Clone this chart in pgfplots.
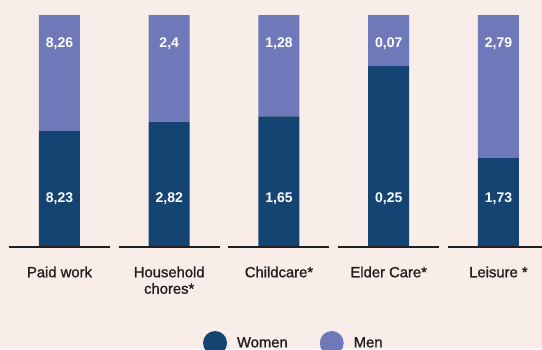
\documentclass[border=0pt]{standalone}
\usepackage{pgfplots}
\pgfplotsset{compat=1.18}
\usepackage{pgfplotstable}
\usepackage{fontspec}
\setmainfont{Liberation Sans}
\newfontfamily\medfont{Liberation Sans}[FakeBold=1.2]
\definecolor{bg}{HTML}{F9EDE9}
\definecolor{women}{HTML}{134472}
\definecolor{men}{HTML}{6F79B9}
\definecolor{ink}{HTML}{231F20}

\pgfplotstableread{
x w m wl ml
0 8.23 8.26 8,23 8,26
1 2.82 2.4 2,82 2,4
2 1.65 1.28 1,65 1,28
3 0.25 0.07 0,25 0,07
4 1.73 2.79 1,73 2,79
}\datatable

\begin{document}
\begin{tikzpicture}[x=1pt,y=1pt]
\fill[bg] (0,0) rectangle (542,349);
\path[use as bounding box] (0,0) rectangle (542,349);
\pgfplotsset{myax/.style={at={(4.6pt,102pt)}, anchor=south west, scale only axis,
  width=548.75pt, height=232pt, xmin=-0.5, xmax=4.5, ymin=0, ymax=100,
  axis line style={draw=none}, major tick length=0pt, ytick=\empty, clip=false}}
\begin{axis}[myax, ybar stacked, bar width=41pt,
  xtick={0,1,2,3,4},
  xticklabels={Paid work, {Household\\chores*}, Childcare*, Elder Care*, Leisure *},
  xticklabel style={align=center, font=\medfont\fontsize{14.8}{16.5}\selectfont, text=ink, yshift=-16pt}]
\addplot[fill=women, draw=none] table[x=x, y expr={100*\thisrow{w}/(\thisrow{w}+\thisrow{m})}] {\datatable};
\addplot[fill=men, draw=none] table[x=x, y expr={100*\thisrow{m}/(\thisrow{w}+\thisrow{m})}] {\datatable};
\end{axis}
\begin{axis}[myax, xtick=\empty,
  nodes near coords, point meta=explicit symbolic,
  every node near coord/.append style={anchor=base, font=\bfseries\fontsize{14}{16}\selectfont, text=white},
  legend image code/.code={\fill[#1] (12pt,0pt) circle (12pt);},
  legend columns=2,
  legend style={draw=none, fill=none, inner sep=0pt, outer sep=0pt,
    at={(0.3616,-0.4138)}, anchor=west, font=\medfont\fontsize{14.8}{16}\selectfont, text=ink,
    /tikz/every odd column/.append style={column sep=8pt},
    /tikz/every even column/.append style={column sep=30pt}}]
\addplot[draw=none, mark=none, forget plot] table[x=x, y expr=19.1, meta=wl] {\datatable};
\addplot[draw=none, mark=none, forget plot] table[x=x, y expr=85.8, meta=ml] {\datatable};
\pgfplotsinvokeforeach{0,1,2,3,4}{\draw[ink, line width=2pt] (axis cs:#1-0.46,0) -- (axis cs:#1+0.46,0);}
\addlegendimage{fill=women, draw=none}
\addlegendimage{fill=men, draw=none}
\legend{Women, Men}
\end{axis}
\end{tikzpicture}
\end{document}
